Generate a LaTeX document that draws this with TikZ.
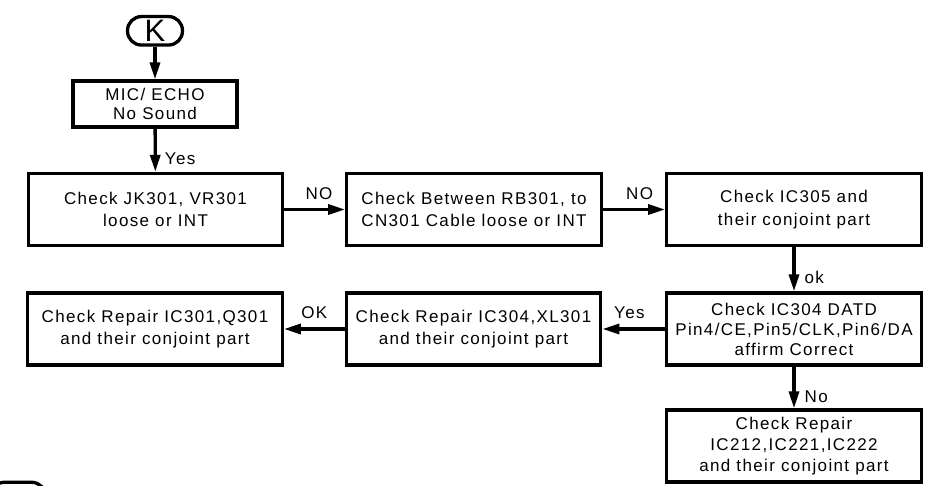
\documentclass[tikz,border=0pt]{standalone}
\usepackage{fontspec}
\newfontfamily\cad{Liberation Sans}[LetterSpace=8.0]
\usetikzlibrary{arrows.meta}
\begin{document}
\begin{tikzpicture}[x=1pt,y=-1pt,
  box/.style={draw, line width=3.3pt, minimum width=254.5pt, minimum height=72pt,
    align=center, inner sep=0pt, font=\cad\fontsize{17}{22.5}\selectfont},
  term/.style={draw, line width=3.3pt, rounded corners=14pt, minimum width=55pt,
    minimum height=28.5pt, inner sep=0pt, font=\cad\fontsize{31}{31}\selectfont},
  arr/.style={line width=3.3pt, -{Triangle[length=17pt,width=10pt]}},
  lbl/.style={inner sep=0pt, font=\cad\fontsize{17}{20}\selectfont}]
\useasboundingbox (0,0) rectangle (935,486);
\begin{scope}
\clip (0,0) rectangle (935,486);
\node[term] (k) at (155,30.8) {K};
\node[box, minimum width=164pt, minimum height=46pt,
  font=\cad\fontsize{17}{19}\selectfont] (mic) at (155,104) {MIC/ ECHO\\No Sound};
\node[box] (b1) at (155.5,209.5) {Check JK301, VR301\\loose or INT};
\node[box] (b2) at (474,209.5) {Check Between RB301, to\\CN301 Cable loose or INT};
\node[box] (b3) at (794,209.5) {Check IC305 and\\their conjoint part};
\node[box, font=\cad\fontsize{17}{20}\selectfont] (c3) at (794,329) {Check IC304 DATD\\Pin4/CE,Pin5/CLK,Pin6/DA\\affirm Correct};
\node[box, font=\cad\fontsize{17}{21.5}\selectfont] (c2) at (473.5,329) {Check Repair IC304,XL301\\and their conjoint part};
\node[box, font=\cad\fontsize{17}{21.5}\selectfont] (c1) at (155,329) {Check Repair IC301,Q301\\and their conjoint part};
\node[box, font=\cad\fontsize{17}{21}\selectfont] (d) at (794,446) {Check Repair\\IC212,IC221,IC222\\and their conjoint part};
\node[term] (nk) at (18,496.5) {};
\end{scope}
\draw[arr] (k) -- (mic);
\draw[arr] (mic) -- node[lbl, pos=0.7, anchor=west, xshift=8pt] {Yes} (b1);
\draw[arr] (b1) -- node[lbl, pos=0.57, above=8pt] {NO} (b2);
\draw[arr] (b2) -- node[lbl, pos=0.59, above=8pt] {NO} (b3);
\draw[arr] (b3) -- node[lbl, pos=0.69, anchor=west, xshift=9pt] {ok} (c3);
\draw[arr] (c3) -- node[lbl, pos=0.57, above=9pt] {Yes} (c2);
\draw[arr] (c2) -- node[lbl, pos=0.5, above=9pt] {OK} (c1);
\draw[arr] (c3) -- node[lbl, pos=0.72, anchor=west, xshift=9pt] {No} (d);
\end{tikzpicture}
\end{document}
